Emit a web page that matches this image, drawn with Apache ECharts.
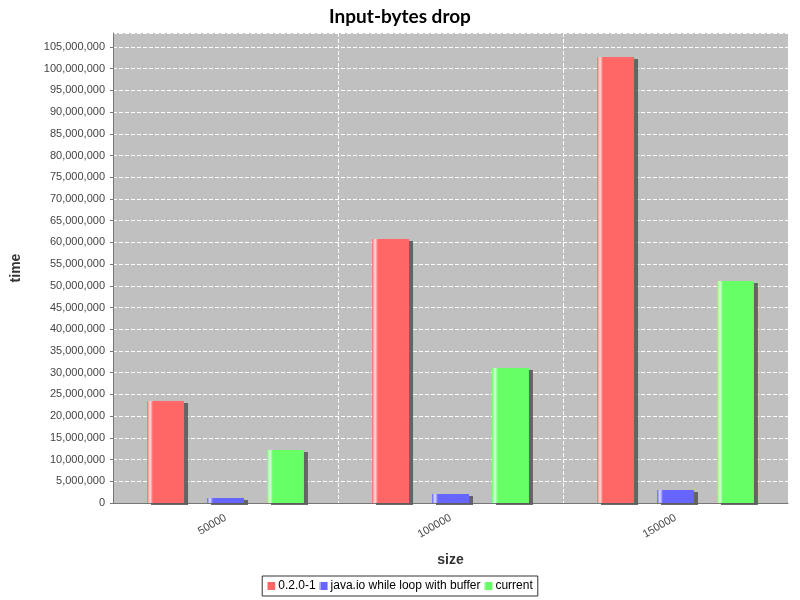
<!DOCTYPE html>
<html><head><meta charset="utf-8">
<script src="https://cdn.jsdelivr.net/npm/echarts@6/dist/echarts.min.js"></script>
<style>html,body{margin:0;background:#fff}#c{width:800px;height:600px}</style>
</head><body><div id="c"></div>
<script>
const categories = ['50000','100000','150000'];
const s1 = [23500000, 60800000, 102700000];
const s2 = [1150000, 2070000, 3000000];
const s3 = [12200000, 31100000, 51100000];
const names = ['0.2.0-1','java.io while loop with buffer','current'];
function grad(base, light){
  return new echarts.graphic.LinearGradient(0,0,1,0,[
    {offset:0,color:base},{offset:0.08,color:light},{offset:0.16,color:base},{offset:1,color:base}]);
}
const cols = [['#ff6666','#ffe0e0'],['#6666ff','#e0e0ff'],['#66ff66','#e0ffe0']];
const data = [s1,s2,s3];
const chart = echarts.init(document.getElementById('c'));
chart.setOption({
  animation:false,
  title:{text:'Input-bytes drop',left:'center',top:2,textStyle:{fontSize:19,fontWeight:'bold',color:'#000',fontFamily:'Lato'}},
  grid:{left:113,right:12,top:33,bottom:97,backgroundColor:'#c0c0c0',show:true,borderWidth:0},
  legend:{bottom:4,itemWidth:8,itemHeight:8,itemGap:4,icon:'rect',borderColor:'#333',borderWidth:1,padding:[4,5],borderRadius:0,
    textStyle:{fontSize:12,color:'#000',padding:[0,0,0,-2]},data:names},
  xAxis:{type:'category',data:categories,name:'size',nameLocation:'middle',nameGap:50,
    nameTextStyle:{fontSize:14,fontWeight:'bold',color:'#333'},
    axisLine:{lineStyle:{color:'#777'}},axisTick:{show:false},
    axisLabel:{rotate:30,fontSize:11,color:'#444',margin:14},
    splitLine:{show:true,interval:0,lineStyle:{color:'#fff',type:'dashed'}}},
  yAxis:{type:'value',min:0,max:108200000,interval:5000000,name:'time',nameLocation:'middle',nameGap:90,
    nameTextStyle:{fontSize:14,fontWeight:'bold',color:'#333'},
    axisLine:{show:true,lineStyle:{color:'#777'}},axisTick:{show:true,length:3,lineStyle:{color:'#777'}},
    axisLabel:{fontSize:11,color:'#444',formatter:v=>v.toLocaleString('en-US'),showMaxLabel:false},
    splitLine:{lineStyle:{color:'#fff',type:'dashed'}}},
  series:data.map((d,i)=>({name:names[i],type:'bar',data:d,barWidth:37,barGap:'62%',
    itemStyle:{color:grad(cols[i][0],cols[i][1]),shadowColor:'rgba(90,90,90,0.9)',shadowOffsetX:4,shadowOffsetY:2,shadowBlur:0}}))
});
</script></body></html>
